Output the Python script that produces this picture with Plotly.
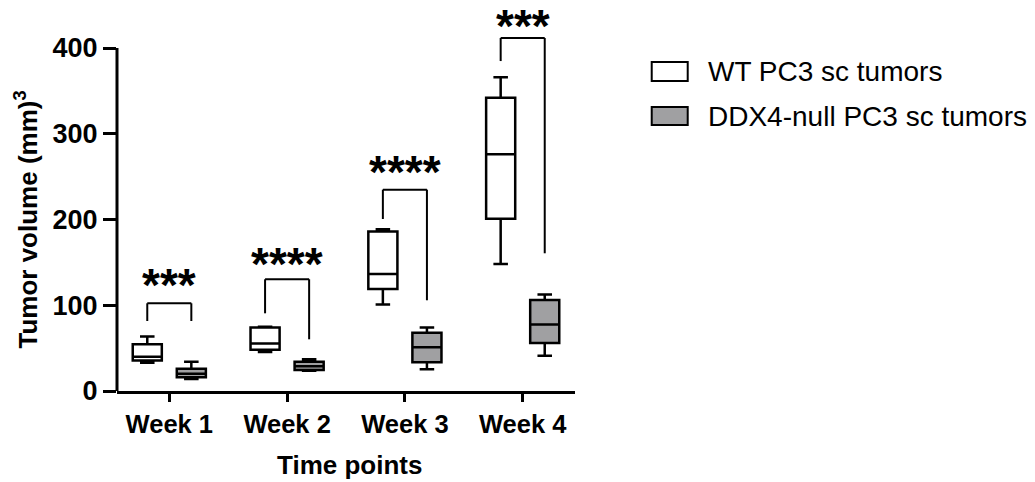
import plotly.graph_objects as go

weeks = ["Week 1", "Week 2", "Week 3", "Week 4"]

# WT PC3 sc tumors (box statistics)
wt_low = [33, 45.5, 101, 148]
wt_q1 = [35.5, 48, 119, 201]
wt_med = [40, 55.5, 136.5, 276]
wt_q3 = [54.5, 74, 186, 342]
wt_high = [63.5, 75, 188.5, 366]

# DDX4-null PC3 sc tumors (box statistics)
dd_low = [14, 23.5, 25.5, 41]
dd_q1 = [16, 24.5, 33.5, 56]
dd_med = [20, 29, 51, 77.5]
dd_q3 = [26, 34, 68, 106]
dd_high = [34, 37, 74, 112.5]

# significance
stars = ["***", "****", "****", "***"]
bracket_top = [102.3, 130.3, 234.8, 411.7]
bracket_left_end = [81.6, 90.6, 200.6, 384.8]
bracket_right_end = [81.6, 60.3, 105.8, 160.6]
star_level = [130.6, 155, 262, 433]

series_names = ["WT PC3 sc tumors", "DDX4-null PC3 sc tumors"]
y_ticks = [0, 100, 200, 300, 400]

GRAY = "#a0a0a2"
FONT = "Liberation Sans, Arial, sans-serif"

fig = go.Figure()
fig.add_trace(go.Box(
    x=weeks, q1=wt_q1, median=wt_med, q3=wt_q3,
    lowerfence=wt_low, upperfence=wt_high,
    name=series_names[0], fillcolor="white",
    line=dict(color="black", width=2.5), whiskerwidth=0.5,
    boxpoints=False, showlegend=False,
))
fig.add_trace(go.Box(
    x=weeks, q1=dd_q1, median=dd_med, q3=dd_q3,
    lowerfence=dd_low, upperfence=dd_high,
    name=series_names[1], fillcolor=GRAY,
    line=dict(color="black", width=2.5), whiskerwidth=0.5,
    boxpoints=False, showlegend=False,
))

off = 0.187
shapes = []
annotations = []
for i, w in enumerate(weeks):
    xl = i - off
    xr = i + off
    line = dict(color="black", width=2)
    shapes.append(dict(type="line", xref="x", yref="y", x0=xl, x1=xl,
                       y0=bracket_left_end[i], y1=bracket_top[i], line=line))
    shapes.append(dict(type="line", xref="x", yref="y", x0=xl, x1=xr,
                       y0=bracket_top[i], y1=bracket_top[i], line=line))
    shapes.append(dict(type="line", xref="x", yref="y", x0=xr, x1=xr,
                       y0=bracket_top[i], y1=bracket_right_end[i], line=line))
    annotations.append(dict(
        x=i, y=star_level[i] - 7, xref="x", yref="y", text=stars[i],
        showarrow=False, xanchor="center", yanchor="middle", borderpad=0,
        font=dict(family=FONT, size=46, color="black", weight="bold"),
    ))

# y axis line only from 0 to 400
shapes.append(dict(type="line", xref="paper", yref="y", x0=0, x1=0,
                   y0=0, y1=400, line=dict(color="black", width=3)))

# axis titles
annotations.append(dict(
    x=-0.1965, y=200, xref="paper", yref="y",
    text="Tumor volume (mm)<sup>3</sup>", textangle=-90,
    showarrow=False, xanchor="center", yanchor="middle",
    font=dict(family=FONT, size=26, color="black", weight="bold"),
))
annotations.append(dict(
    x=0.5087, y=-0.189, xref="paper", yref="paper",
    text="Time points", showarrow=False, xanchor="center", yanchor="middle",
    font=dict(family=FONT, size=26, color="black", weight="bold"),
))

# legend (manual)
leg_y = [(0.8414, 0.7928), (0.7263, 0.6803)]
leg_fill = ["white", GRAY]
for k in range(2):
    shapes.append(dict(type="rect", xref="paper", yref="paper",
                       x0=1.1675, x1=1.2461, y0=leg_y[k][1], y1=leg_y[k][0],
                       fillcolor=leg_fill[k], line=dict(color="black", width=2)))
    annotations.append(dict(
        x=1.286, y=(leg_y[k][0] + leg_y[k][1]) / 2, xref="paper", yref="paper",
        text=series_names[k], showarrow=False, xanchor="left", yanchor="middle",
        font=dict(family=FONT, size=28, color="black"),
    ))

fig.update_layout(
    width=1035, height=482,
    margin=dict(l=117, r=460, t=0, b=91),
    paper_bgcolor="white", plot_bgcolor="white",
    boxmode="group", boxgap=0.252, boxgroupgap=0.34,
    shapes=shapes, annotations=annotations,
    showlegend=False,
    xaxis=dict(
        range=[-0.444, 3.444], showline=True, linecolor="black", linewidth=3,
        ticks="outside", ticklen=8, tickwidth=3, tickcolor="black",
        showgrid=False, zeroline=False,
        tickfont=dict(family=FONT, size=25.5, color="black", weight="bold"),
    ),
    yaxis=dict(
        range=[0, 456], showline=False, tickvals=y_ticks,
        ticks="outside", ticklen=13, tickwidth=3, tickcolor="black",
        showgrid=False, zeroline=False,
        tickfont=dict(family=FONT, size=27, color="black", weight="bold"),
    ),
)

fig.write_html(
    "out.html",
    config={"displayModeBar": False},
    post_script="document.body.style.margin='0';document.body.style.overflow='hidden';",
)
